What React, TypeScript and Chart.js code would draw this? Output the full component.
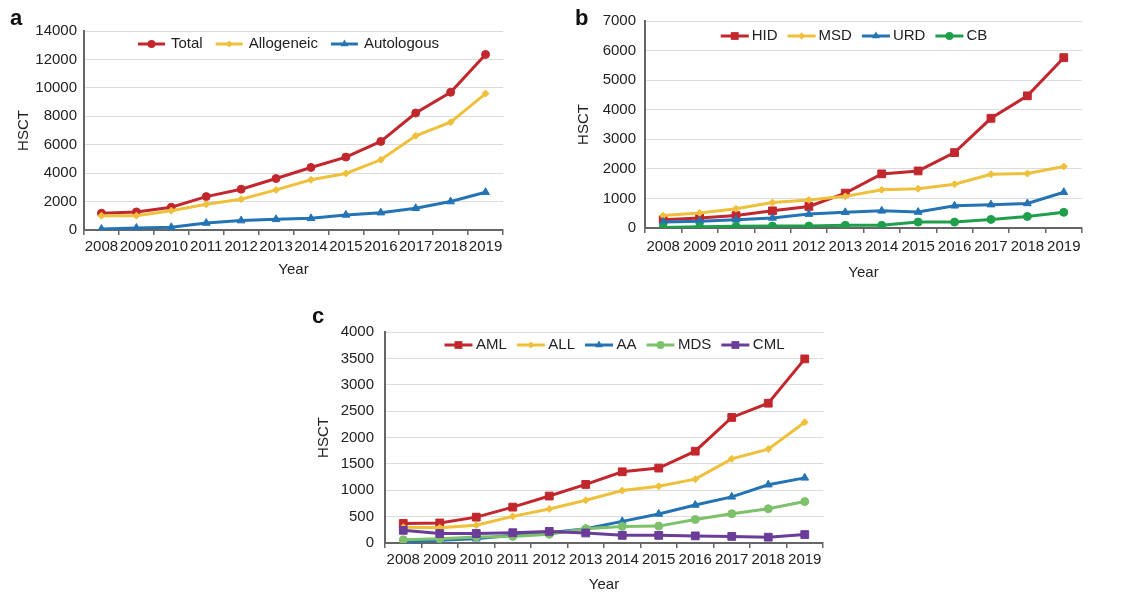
import React, { useEffect, useRef } from 'react';
import { Chart, registerables } from 'chart.js';

Chart.register(...registerables);

const FONT = "'Liberation Sans', Arial, Helvetica, sans-serif";
const AXIS = '#666666';
const TEXT = '#222222';

const years = ['2008', '2009', '2010', '2011', '2012', '2013', '2014', '2015', '2016', '2017', '2018', '2019'];

// Panel a
const totalValues = [1180, 1270, 1600, 2350, 2870, 3620, 4400, 5130, 6230, 8230, 9690, 12350];
const allogeneicValues = [1010, 1010, 1360, 1810, 2170, 2820, 3530, 3980, 4940, 6630, 7580, 9600];
const autologousValues = [70, 140, 190, 490, 660, 750, 820, 1060, 1220, 1530, 2000, 2660];

// Panel b
const hidValues = [280, 340, 420, 580, 730, 1180, 1830, 1930, 2550, 3710, 4470, 5760];
const msdValues = [420, 510, 650, 860, 950, 1070, 1290, 1330, 1480, 1820, 1840, 2080];
const urdValues = [200, 230, 280, 340, 470, 530, 580, 540, 750, 790, 830, 1210];
const cbValues = [20, 40, 55, 65, 65, 90, 90, 200, 200, 290, 390, 530];

// Panel c
const amlValues = [370, 380, 490, 680, 890, 1110, 1350, 1420, 1740, 2380, 2650, 3490];
const allValues = [300, 290, 335, 505, 645, 810, 995, 1075, 1210, 1595, 1780, 2290];
const aaValues = [20, 50, 80, 145, 195, 270, 410, 550, 720, 875, 1105, 1235];
const mdsValues = [60, 80, 115, 125, 165, 270, 315, 320, 445, 555, 650, 785];
const cmlValues = [240, 180, 180, 195, 220, 190, 145, 145, 135, 125, 110, 160];

const RED = '#C1272D';
const YELLOW = '#EEC03C';
const BLUE = '#2474B5';
const GREEN = '#1F9E4B';
const LGREEN = '#7DC16B';
const PURPLE = '#6A3D98';

type Series = { label: string; data: number[]; color: string; style: string; radius: number };

type PanelCfg = {
  left: number; top: number; width: number; height: number;
  padTop: number; padRight: number; yWidth: number; xHeight: number;
  yMax: number; yStep: number; yTickPad: number; xTickPad: number;
  yTitlePad: number; xTitlePad: number;
  legendDy: number; legendShift: number; sampleLen: number; textGap: number; itemGap: number;
  series: Series[];
};

const panels: PanelCfg[] = [
  {
    left: 0, top: 0, width: 560, height: 290,
    padTop: 31, padRight: 57, yWidth: 84, xHeight: 60,
    yMax: 14000, yStep: 2000, yTickPad: 7, xTickPad: 3,
    yTitlePad: 15, xTitlePad: 11,
    legendDy: 13, legendShift: -5, sampleLen: 27, textGap: 6, itemGap: 13,
    series: [
      { label: 'Total', data: totalValues, color: RED, style: 'circle', radius: 4 },
      { label: 'Allogeneic', data: allogeneicValues, color: YELLOW, style: 'rectRot', radius: 3.5 },
      { label: 'Autologous', data: autologousValues, color: BLUE, style: 'triangle', radius: 4.5 },
    ],
  },
  {
    left: 560, top: 0, width: 567, height: 290,
    padTop: 21, padRight: 45, yWidth: 85, xHeight: 62,
    yMax: 7000, yStep: 1000, yTickPad: 9, xTickPad: 5,
    yTitlePad: 15, xTitlePad: 8,
    legendDy: 15, legendShift: -9.5, sampleLen: 28, textGap: 3, itemGap: 10,
    series: [
      { label: 'HID', data: hidValues, color: RED, style: 'rect', radius: 5.5 },
      { label: 'MSD', data: msdValues, color: YELLOW, style: 'rectRot', radius: 3.5 },
      { label: 'URD', data: urdValues, color: BLUE, style: 'triangle', radius: 4.5 },
      { label: 'CB', data: cbValues, color: GREEN, style: 'circle', radius: 4 },
    ],
  },
  {
    left: 300, top: 300, width: 560, height: 300,
    padTop: 32, padRight: 37, yWidth: 85, xHeight: 57,
    yMax: 4000, yStep: 500, yTickPad: 11, xTickPad: 3,
    yTitlePad: 15, xTitlePad: 6,
    legendDy: 13, legendShift: 10.5, sampleLen: 28, textGap: 3.5, itemGap: 10,
    series: [
      { label: 'AML', data: amlValues, color: RED, style: 'rect', radius: 5.5 },
      { label: 'ALL', data: allValues, color: YELLOW, style: 'rectRot', radius: 3.5 },
      { label: 'AA', data: aaValues, color: BLUE, style: 'triangle', radius: 4.5 },
      { label: 'MDS', data: mdsValues, color: LGREEN, style: 'circle', radius: 4 },
      { label: 'CML', data: cmlValues, color: PURPLE, style: 'rect', radius: 5.5 },
    ],
  },
];

const panelLetters = [
  { text: 'a', left: 10, top: 7 },
  { text: 'b', left: 575, top: 7 },
  { text: 'c', left: 312, top: 305 },
];

function drawMarker(ctx: CanvasRenderingContext2D, style: string, x: number, y: number, r: number) {
  ctx.beginPath();
  if (style === 'circle') {
    ctx.arc(x, y, r, 0, Math.PI * 2);
  } else if (style === 'rect') {
    const s = r * Math.SQRT1_2;
    ctx.rect(x - s, y - s, 2 * s, 2 * s);
  } else if (style === 'rectRot') {
    ctx.moveTo(x, y - r);
    ctx.lineTo(x + r, y);
    ctx.lineTo(x, y + r);
    ctx.lineTo(x - r, y);
    ctx.closePath();
  } else {
    ctx.moveTo(x, y - r);
    ctx.lineTo(x + r * 0.866, y + r * 0.5);
    ctx.lineTo(x - r * 0.866, y + r * 0.5);
    ctx.closePath();
  }
  ctx.fill();
}

// Horizontal legend drawn inside the plot area, Excel style (line + marker sample).
const insideLegend = {
  id: 'insideLegend',
  afterDatasetsDraw(chart: any, _args: any, opts: any) {
    const ctx: CanvasRenderingContext2D = chart.ctx;
    const area = chart.chartArea;
    ctx.save();
    ctx.font = `15px ${FONT}`;
    ctx.textBaseline = 'middle';
    ctx.textAlign = 'left';
    const items = chart.data.datasets.map((ds: any) => {
      const tw = ctx.measureText(ds.label).width;
      return { ds, tw, w: opts.sampleLen + opts.textGap + tw };
    });
    const total = items.reduce((a: number, it: any) => a + it.w, 0) + opts.itemGap * (items.length - 1);
    let x = area.left + (area.right - area.left - total) / 2 + opts.shift;
    const y = area.top + opts.dy;
    items.forEach((it: any) => {
      const c = it.ds.borderColor;
      ctx.strokeStyle = c;
      ctx.fillStyle = c;
      ctx.lineWidth = 3;
      ctx.beginPath();
      ctx.moveTo(x, y);
      ctx.lineTo(x + opts.sampleLen, y);
      ctx.stroke();
      drawMarker(ctx, it.ds.pointStyle, x + opts.sampleLen / 2, y, it.ds.pointRadius);
      ctx.fillStyle = TEXT;
      ctx.fillText(it.ds.label, x + opts.sampleLen + opts.textGap, y);
      x += it.w + opts.itemGap;
    });
    ctx.restore();
  },
};

function Panel({ cfg }: { cfg: PanelCfg }) {
  const ref = useRef<HTMLCanvasElement>(null);
  useEffect(() => {
    const canvas = ref.current!;
    const n = cfg.series.length;
    const font = { family: FONT, size: 15 };
    const chart = new Chart(canvas, {
      type: 'line',
      data: {
        labels: years,
        datasets: cfg.series.map((s, i) => ({
          label: s.label,
          data: s.data,
          borderColor: s.color,
          backgroundColor: s.color,
          borderWidth: 3,
          pointStyle: s.style as any,
          pointRadius: s.radius,
          pointBorderWidth: 1,
          pointBackgroundColor: s.color,
          pointBorderColor: s.color,
          tension: 0,
          fill: false,
          order: n - i,
        })),
      },
      options: {
        animation: false,
        responsive: false,
        maintainAspectRatio: false,
        layout: { padding: { top: cfg.padTop, right: cfg.padRight, left: 0, bottom: 0 } },
        plugins: {
          tooltip: { enabled: false },
          legend: { display: false },
          insideLegend: {
            dy: cfg.legendDy,
            shift: cfg.legendShift,
            sampleLen: cfg.sampleLen,
            textGap: cfg.textGap,
            itemGap: cfg.itemGap,
          },
        },
        scales: {
          x: {
            type: 'category',
            offset: true,
            grid: { offset: true, drawOnChartArea: false, drawTicks: true, tickLength: 5, color: AXIS, lineWidth: 1.5 },
            border: { display: true, color: AXIS, width: 2 },
            ticks: { autoSkip: false, maxRotation: 0, minRotation: 0, padding: cfg.xTickPad, font, color: TEXT },
            title: { display: true, text: 'Year', font, color: TEXT, padding: { top: 0, bottom: cfg.xTitlePad } },
            afterFit: (s: any) => { s.height = cfg.xHeight; },
          },
          y: {
            min: 0,
            max: cfg.yMax,
            ticks: {
              stepSize: cfg.yStep,
              padding: cfg.yTickPad,
              font,
              color: TEXT,
              callback: (v: any) => String(v),
            },
            grid: { color: '#dcdcdc', lineWidth: 1, drawTicks: false },
            border: { display: true, color: AXIS, width: 2 },
            title: { display: true, text: 'HSCT', font, color: TEXT, padding: { top: cfg.yTitlePad, bottom: 0 } },
            afterFit: (s: any) => { s.width = cfg.yWidth; },
          },
        },
      } as any,
      plugins: [insideLegend as any],
    });
    return () => chart.destroy();
  }, [cfg]);
  return (
    <div style={{ position: 'absolute', left: cfg.left, top: cfg.top, width: cfg.width, height: cfg.height }}>
      <canvas ref={ref} width={cfg.width} height={cfg.height} style={{ width: cfg.width, height: cfg.height, display: 'block' }} />
    </div>
  );
}

export default function App() {
  return (
    <div style={{ position: 'fixed', left: 0, top: 0, width: 1127, height: 592, background: '#fff', overflow: 'hidden' }}>
      {panels.map((p, i) => <Panel key={i} cfg={p} />)}
      {panelLetters.map((l) => (
        <div
          key={l.text}
          style={{
            position: 'absolute', left: l.left, top: l.top, fontFamily: FONT, fontWeight: 'bold',
            fontSize: 22, lineHeight: '22px', color: '#111',
          }}
        >
          {l.text}
        </div>
      ))}
    </div>
  );
}
